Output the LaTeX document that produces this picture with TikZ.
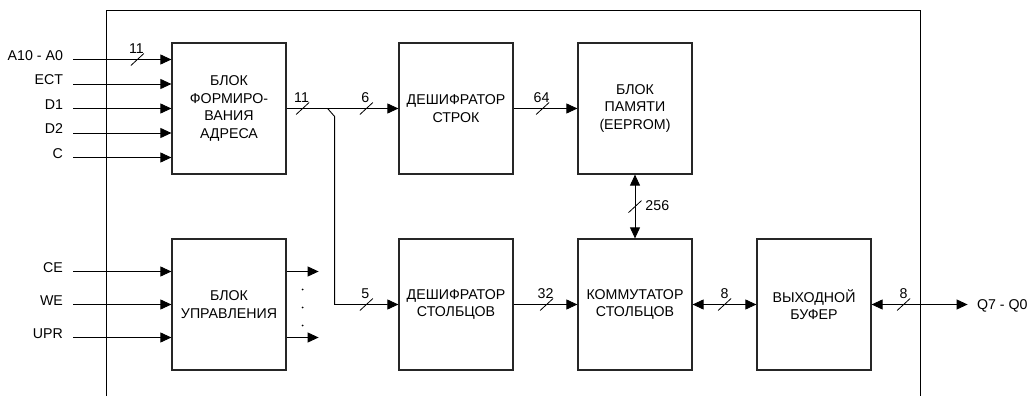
\documentclass[tikz,border=0pt]{standalone}
\usepackage{fontspec}
\setmainfont{Liberation Sans}
\usetikzlibrary{arrows.meta, positioning, calc}

\begin{document}
\begin{tikzpicture}[x=1pt, y=1pt, >={Triangle[length=11pt, width=10pt]},
  font=\fontsize{14.2}{17.5}\selectfont, line width=0.9pt,
  blok/.style={draw=black!85, line width=1.2pt, minimum width=114pt, minimum height=131pt, inner sep=0pt, align=center},
  lbl/.style={inner sep=0pt},
  pics/slash/.style={code={\draw[line width=0.8pt] (-6.5,-6) -- (6.5,6);}}]
  \useasboundingbox (0,0) rectangle (1030,396);

  % Корпус
  \draw (106,0) -- (106,386) -- (920,386) -- (920,0);

  % Блоки
  \node[blok] (addr) at (229,287.5) {БЛОК\\ФОРМИРО-\\ВАНИЯ\\АДРЕСА};
  \node[blok, right=111.8pt of addr] (rowdec) {ДЕШИФРАТОР\\СТРОК};
  \node[blok, right=63.8pt of rowdec] (mem) {БЛОК\\ПАМЯТИ\\(EEPROM)};
  \node[blok, below=63.8pt of addr] (ctrl) {БЛОК\\УПРАВЛЕНИЯ};
  \node[blok, below=63.8pt of rowdec] (coldec) {ДЕШИФРАТОР\\СТОЛБЦОВ};
  \node[blok, below=63.8pt of mem] (comm) {КОММУТАТОР\\СТОЛБЦОВ};
  \node[blok, right=63.8pt of comm] (outbuf) {ВЫХОДНОЙ\\БУФЕР};

  % Входы
  \foreach \txt/\dy [count=\i] in {A10 - A0/49, ECT/24.5, D1/0, D2/-24.5, C/-49} {
    \coordinate (in\i) at ($(addr.west)+(-98,\dy)$);
    \node[lbl, anchor=base east] (inlbl\i) at ($(in\i)+(-10,-1)$) {\txt};
    \draw[->] (in\i) -- (in\i -| addr.west);
  }
  \pic at ($(in1)+(64,0)$) {slash};
  \node[lbl] (n11a) at ($(in1)+(63,11)$) {11};

  \foreach \txt/\dy [count=\i] in {CE/33, WE/0, UPR/-33} {
    \coordinate (cin\i) at ($(ctrl.west)+(-98,\dy)$);
    \node[lbl, anchor=base east] (cinlbl\i) at ($(cin\i)+(-10,-1)$) {\txt};
    \draw[->] (cin\i) -- (cin\i -| ctrl.west);
  }

  % Выходы блока управления
  \coordinate (cout1) at ($(ctrl.east)+(32,33)$);
  \coordinate (cout2) at ($(ctrl.east)+(32,-33)$);
  \draw[->] (cout1 -| ctrl.east) -- (cout1);
  \draw[->] (cout2 -| ctrl.east) -- (cout2);
  \foreach \dy in {15,-3,-21}
    \fill ($(ctrl.east)+(16,\dy)$) circle (0.9);

  % Шина адреса
  \coordinate (split) at ($(addr.east)+(41,0)$);
  \draw[->] (addr.east) -- (rowdec.west);
  \draw[->] (split) -- ++(7,-8) |- (coldec.west);
  \pic at ($(addr.east)+(16,0)$) {slash};
  \node[lbl] (n11b) at ($(addr.east)+(15,11)$) {11};
  \pic at ($(rowdec.west)+(-32,0)$) {slash};
  \node[lbl] (n6) at ($(rowdec.west)+(-33,11)$) {6};
  \pic at ($(coldec.west)+(-32,0)$) {slash};
  \node[lbl] (n5) at ($(coldec.west)+(-33,11)$) {5};

  % Дешифраторы
  \draw[->] (rowdec.east) -- (mem.west);
  \pic at ($(rowdec.east)+(29,0)$) {slash};
  \node[lbl] (n64) at ($(rowdec.east)+(28,11)$) {64};
  \draw[->] (coldec.east) -- (comm.west);
  \pic at ($(coldec.east)+(33,0)$) {slash};
  \node[lbl] (n32) at ($(coldec.east)+(32,11)$) {32};

  % Память -- коммутатор
  \draw[<->] (mem.south) -- (comm.north);
  \pic at ($(mem.south)+(0,-32)$) {slash};
  \node[lbl, anchor=west] (n256) at ($(mem.south)+(10,-31)$) {256};

  % Выходной буфер
  \draw[<->] (comm.east) -- (outbuf.west);
  \pic at ($(comm.east)+(32,0)$) {slash};
  \node[lbl] (n8a) at ($(comm.east)+(32,11)$) {8};
  \coordinate (out) at ($(outbuf.east)+(96,0)$);
  \draw[<->] (outbuf.east) -- (out);
  \pic at ($(outbuf.east)+(32,0)$) {slash};
  \node[lbl] (n8b) at ($(outbuf.east)+(32,11)$) {8};
  \node[lbl, anchor=base west] (outlbl) at ($(out)+(9,-5)$) {Q7 - Q0};
\end{tikzpicture}
\end{document}
